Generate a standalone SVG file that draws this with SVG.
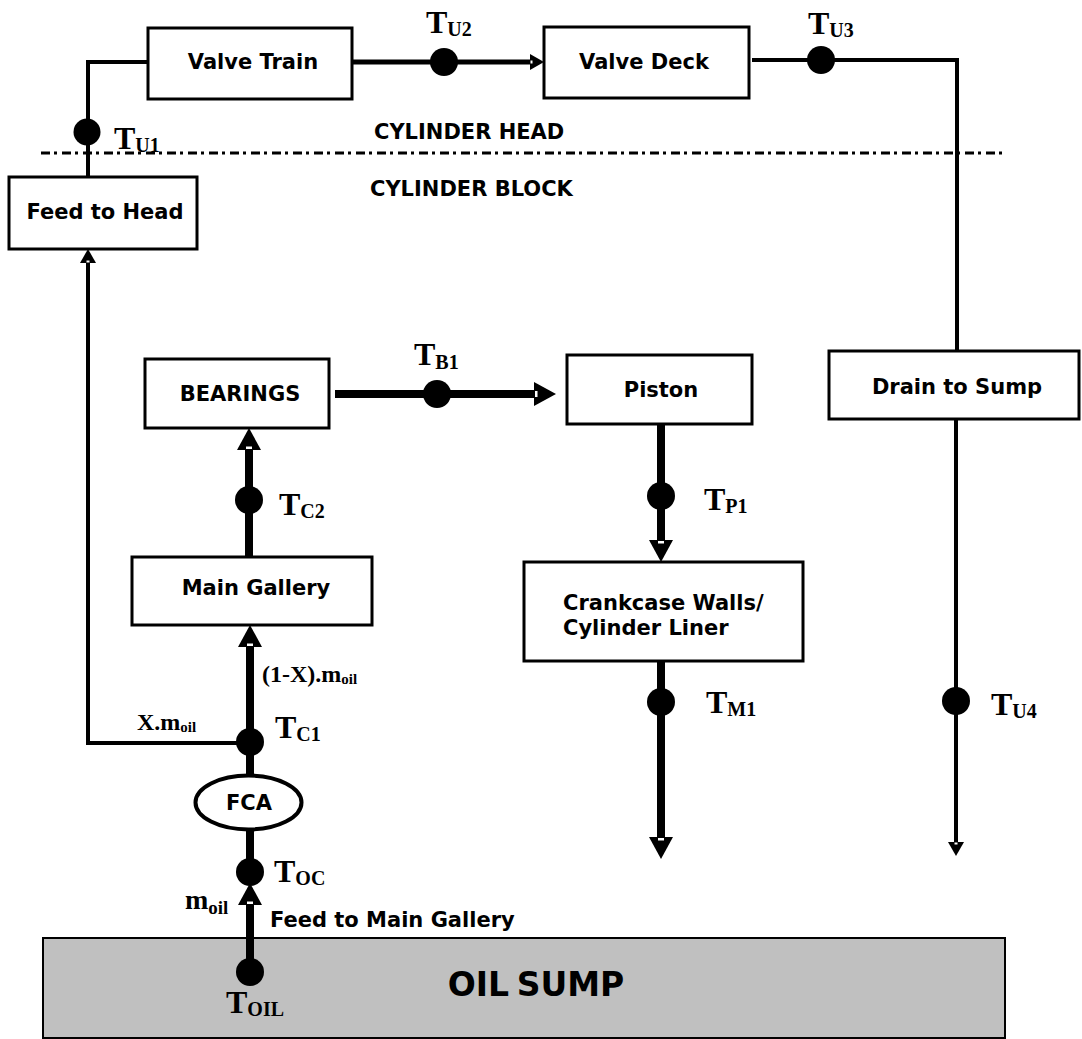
<svg xmlns="http://www.w3.org/2000/svg" width="1082" height="1039" viewBox="0 0 1082 1039">
<style>
.box{fill:#fff;stroke:#000;stroke-width:3}
.lbl{font-family:"DejaVu Sans",Verdana,sans-serif;font-weight:bold;font-size:21px;text-anchor:middle;fill:#000}
.lbl-l{font-family:"DejaVu Sans",Verdana,sans-serif;font-weight:bold;font-size:21px;fill:#000}
.t{font-family:"Liberation Serif","Times New Roman",serif;font-weight:bold;font-size:32px;fill:#000}
.sub{font-size:20px}
.m{font-family:"Liberation Serif","Times New Roman",serif;font-weight:bold;font-size:24px;fill:#000}
.thick{stroke:#000;stroke-width:8;fill:none}
.thin{stroke:#000;stroke-width:4;fill:none}
.dot{fill:#000}
.ahT{marker-end:url(#ahT)}
.ahN{marker-end:url(#ahN)}
</style>
<defs>
<marker id="ahT" markerUnits="userSpaceOnUse" markerWidth="26" markerHeight="28" viewBox="0 -14 26 28" refX="0" refY="0" orient="auto" overflow="visible">
<path d="M0,-12 L22,0 L0,12 Z" fill="#000"/>
<rect x="1" y="-3" width="2.5" height="6" fill="#fff"/>
</marker>
<marker id="ahN" markerUnits="userSpaceOnUse" markerWidth="18" markerHeight="20" viewBox="0 -10 18 20" refX="0" refY="0" orient="auto" overflow="visible">
<path d="M0,-8 L14,0 L0,8 Z" fill="#000"/>
<rect x="0.5" y="-1.5" width="2" height="3" fill="#fff"/>
</marker>
</defs>

<g id="oil-sump">
<rect x="43" y="938" width="962" height="100" fill="#c0c0c0" stroke="#000" stroke-width="2"/>
<text x="536" y="996" style="font-family:'DejaVu Sans',Verdana,sans-serif;font-weight:bold;font-size:33px;text-anchor:middle;word-spacing:-4px">OIL SUMP</text>
</g>

<g id="divider">
<line x1="41" y1="153" x2="1002" y2="153" stroke="#000" stroke-width="3" stroke-dasharray="9 4 3 5"/>
<text x="374" y="139" class="lbl-l">CYLINDER HEAD</text>
<text x="370" y="196" class="lbl-l">CYLINDER BLOCK</text>
</g>

<g id="valve-train">
<rect class="box" x="148" y="28" width="204" height="71"/>
<text class="lbl" x="253" y="69">Valve Train</text>
</g>
<g id="valve-deck">
<rect class="box" x="544" y="27" width="205" height="71"/>
<text class="lbl" x="644" y="69">Valve Deck</text>
</g>
<g id="feed-to-head">
<rect class="box" x="9" y="177" width="188" height="72"/>
<text class="lbl" x="105" y="219">Feed to Head</text>
</g>
<g id="bearings">
<rect class="box" x="145" y="359" width="184" height="69"/>
<text class="lbl" x="240" y="401">BEARINGS</text>
</g>
<g id="piston">
<rect class="box" x="567" y="355" width="185" height="69"/>
<text class="lbl" x="661" y="397">Piston</text>
</g>
<g id="drain-to-sump">
<rect class="box" x="829" y="351" width="250" height="68"/>
<text class="lbl" x="957" y="394">Drain to Sump</text>
</g>
<g id="main-gallery">
<rect class="box" x="132" y="557" width="240" height="68"/>
<text class="lbl" x="256" y="595">Main Gallery</text>
</g>
<g id="crankcase">
<rect class="box" x="524" y="562" width="279" height="99"/>
<text class="lbl-l" x="563" y="610">Crankcase Walls/</text>
<text class="lbl-l" x="563" y="635">Cylinder Liner</text>
</g>
<g id="fca">
<ellipse cx="248.5" cy="802.5" rx="53" ry="27" fill="#fff" stroke="#000" stroke-width="4"/>
<text class="lbl" x="249" y="810">FCA</text>
</g>

<g id="connectors">
<polyline class="thin" points="88,177 88,62 148,62"/>
<line x1="352" y1="62" x2="530" y2="62" stroke="#000" stroke-width="5" class="ahN"/>
<polyline class="thin" points="752,60 957,60 957,351"/>
<line class="thin ahN" x1="956" y1="419" x2="956" y2="842"/>
<polyline class="thin ahN" points="250,743 88,743 88,263"/>
<line class="thick ahT" x1="335" y1="394" x2="534" y2="394"/>
<line class="thick ahT" x1="249" y1="557" x2="249" y2="450"/>
<line class="thick ahT" x1="250" y1="775" x2="250" y2="647"/>
<line class="thick" x1="250" y1="872" x2="250" y2="830"/>
<line class="thick ahT" x1="250" y1="972" x2="250" y2="905"/>
<line class="thick ahT" x1="661" y1="424" x2="661" y2="540"/>
<line class="thick ahT" x1="661" y1="661" x2="661" y2="837"/>
<circle class="dot" cx="87" cy="132" r="13.5"/>
<circle class="dot" cx="444" cy="62" r="14"/>
<circle class="dot" cx="821" cy="60" r="14"/>
<circle class="dot" cx="956" cy="701" r="14"/>
<circle class="dot" cx="437" cy="394" r="14"/>
<circle class="dot" cx="249" cy="500" r="14"/>
<circle class="dot" cx="250" cy="742" r="14"/>
<circle class="dot" cx="250" cy="872" r="14"/>
<circle class="dot" cx="250" cy="972" r="14"/>
<circle class="dot" cx="661" cy="496" r="14"/>
<circle class="dot" cx="661" cy="702" r="14"/>
</g>

<g id="labels">
<text class="t" x="114" y="149">T<tspan class="sub" dy="3">U1</tspan></text>
<text class="t" x="426" y="33">T<tspan class="sub" dy="3">U2</tspan></text>
<text class="t" x="808" y="34">T<tspan class="sub" dy="3">U3</tspan></text>
<text class="t" x="414" y="365">T<tspan class="sub" dy="4">B1</tspan></text>
<text class="t" x="279" y="515">T<tspan class="sub" dy="3">C2</tspan></text>
<text class="t" x="704" y="510">T<tspan class="sub" dy="3">P1</tspan></text>
<text class="t" x="706" y="713">T<tspan class="sub" dy="3">M1</tspan></text>
<text class="t" x="991" y="715">T<tspan class="sub" dy="3">U4</tspan></text>
<text class="t" x="275" y="738">T<tspan class="sub" dy="3">C1</tspan></text>
<text class="t" x="274" y="882">T<tspan class="sub" dy="3">OC</tspan></text>
<text class="t" x="226" y="1013">T<tspan class="sub" dy="3">OIL</tspan></text>
<text class="m" x="262" y="682">(1-X).m<tspan style="font-size:15px" dy="2">oil</tspan></text>
<text class="m" x="137" y="730">X.m<tspan style="font-size:15px" dy="2">oil</tspan></text>
<text class="m" x="185" y="909" style="font-size:28px">m<tspan style="font-size:19px" dy="5">oil</tspan></text>
<text class="lbl-l" x="270" y="927">Feed to Main Gallery</text>
</g>
</svg>
